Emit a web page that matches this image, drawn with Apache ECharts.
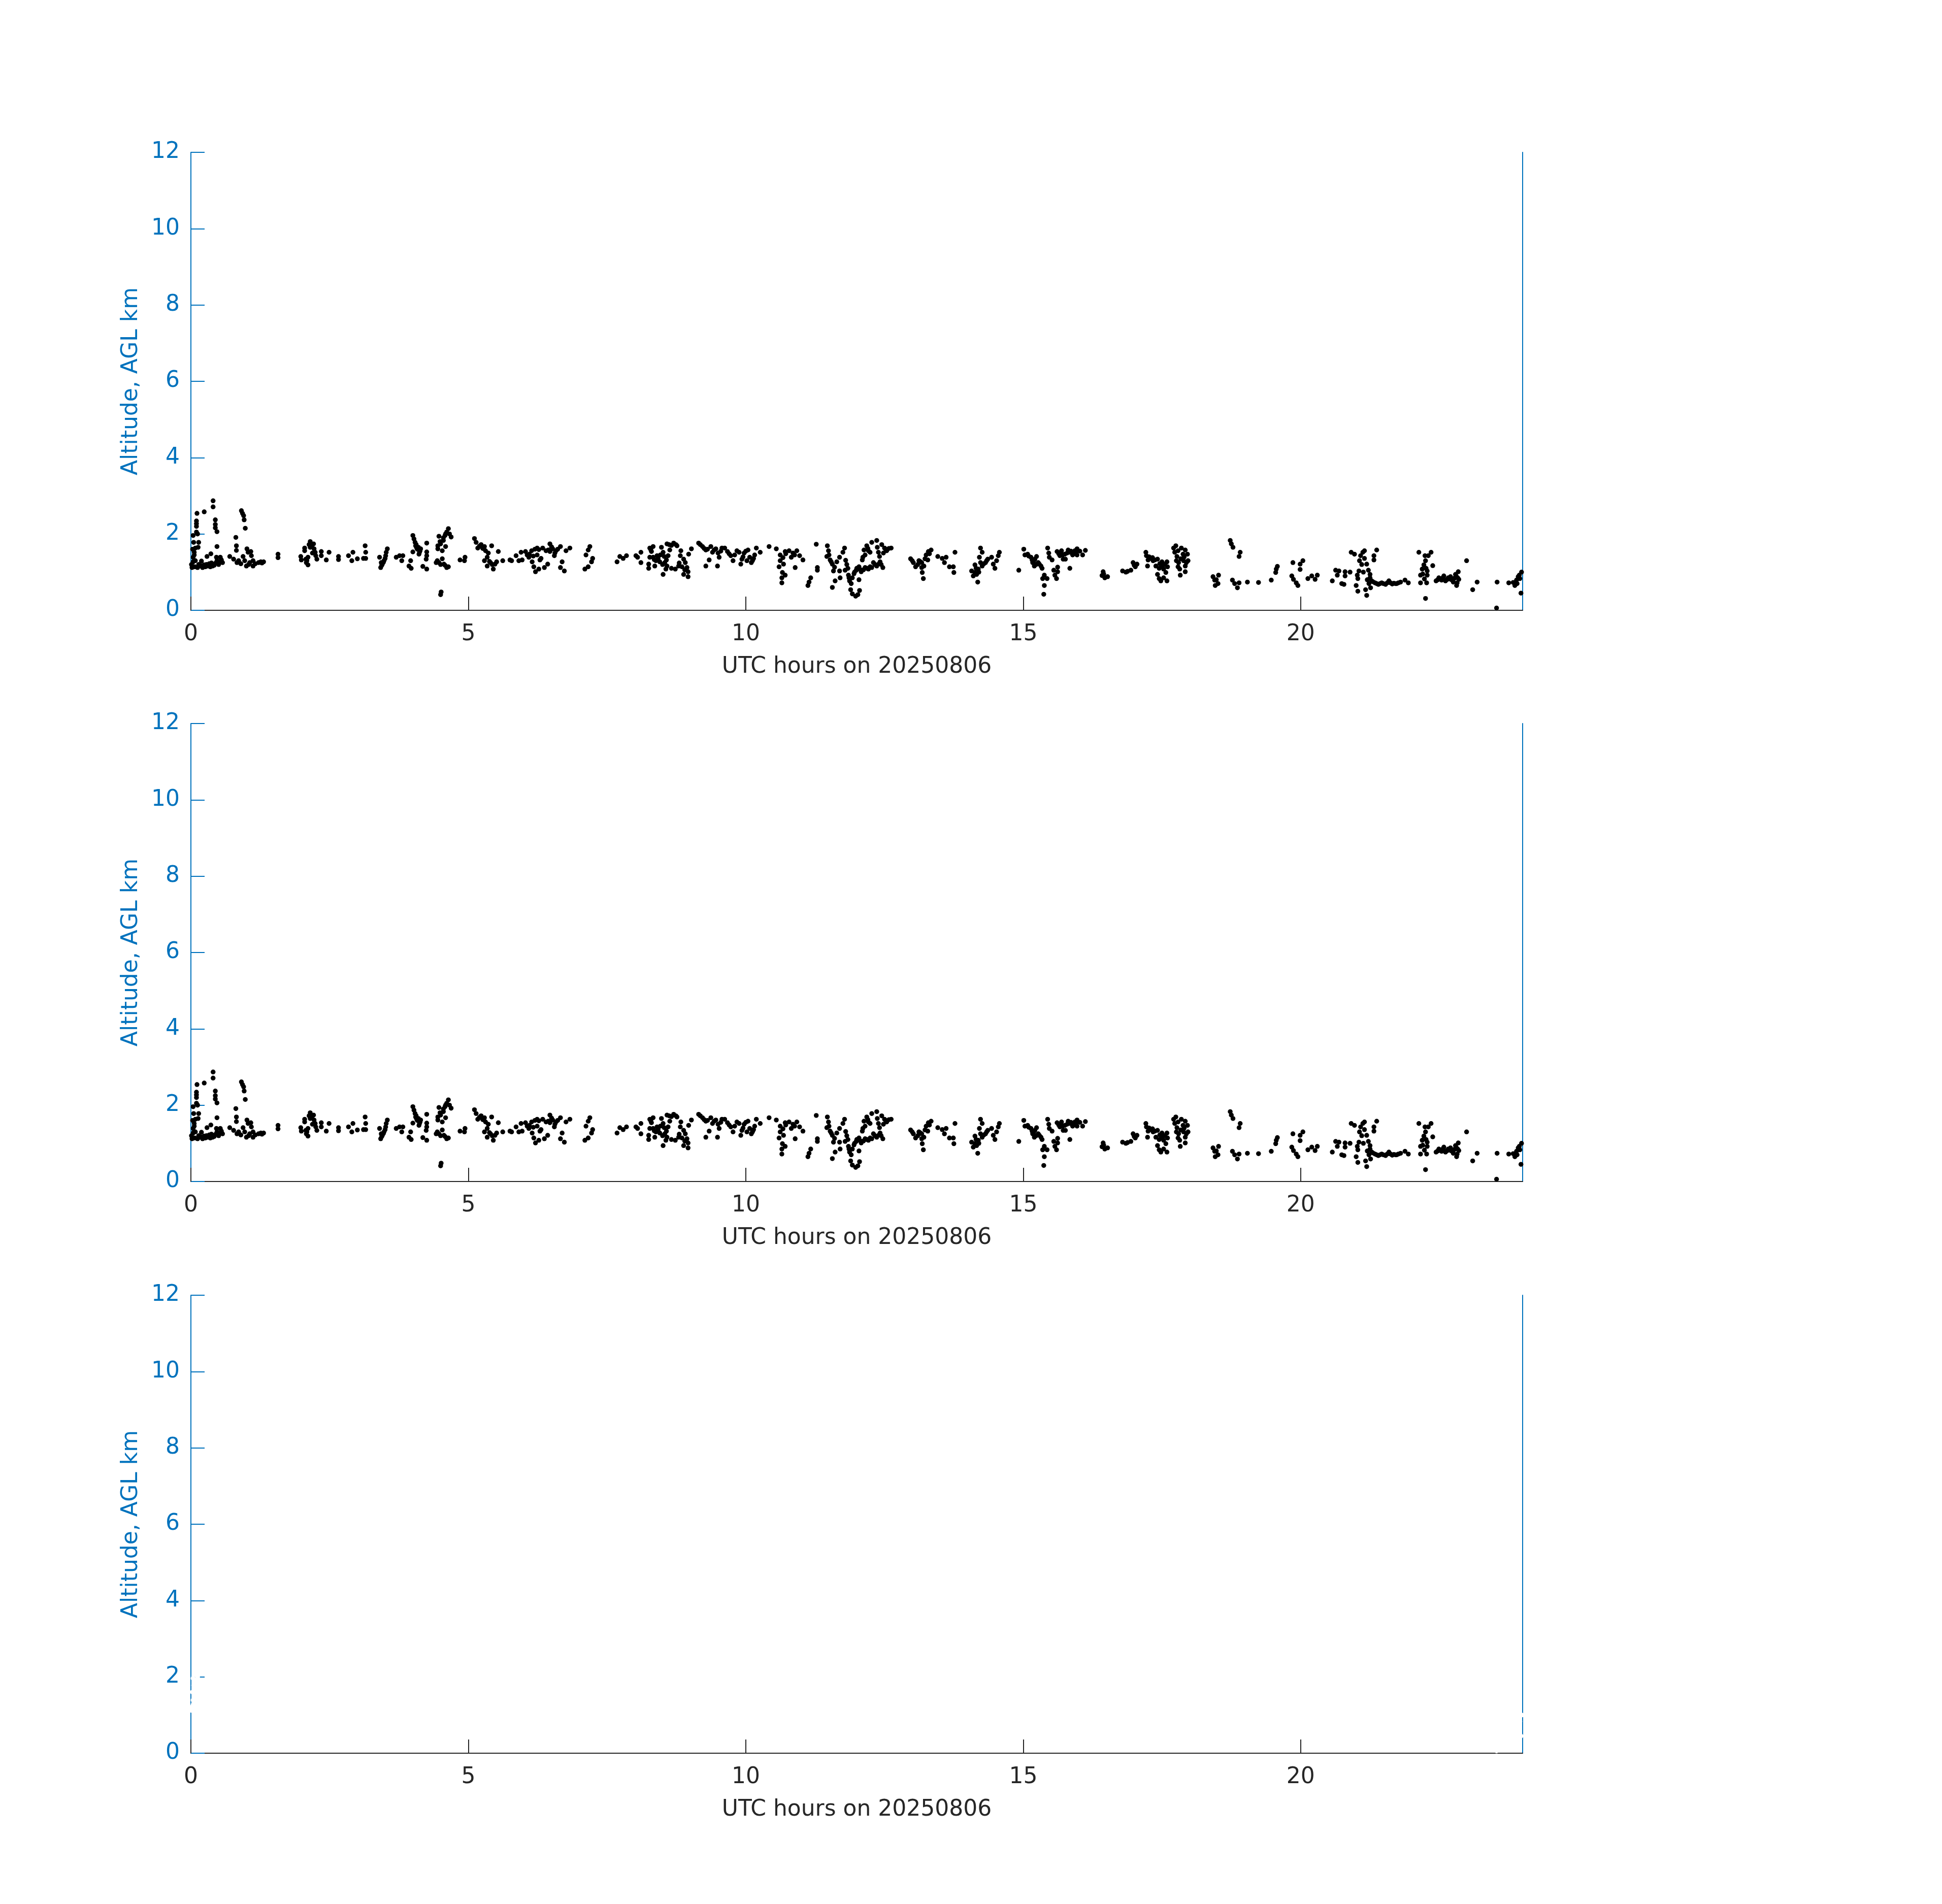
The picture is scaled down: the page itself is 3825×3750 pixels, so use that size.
<!DOCTYPE html>
<html><head><meta charset="utf-8">
<script src="https://cdn.jsdelivr.net/npm/echarts@6/dist/echarts.min.js"></script>
<style>html,body{margin:0;padding:0;background:#fff}#c{width:3825px;height:3750px}</style>
</head><body><div id="c"></div>
<script>
const xTickValues = [0, 5, 10, 15, 20];
const xAxisTitle = 'UTC hours on 20250806';
const yAxisTitle = 'Altitude, AGL km';

// [UTC hour, altitude km]
const obs00to05 = [[0.02,1.12],[0.07,1.14],[0.12,1.12],[0.16,1.16],[0.21,1.12],[0.26,1.14],[0.30,1.16],[0.35,1.14],[0.39,1.16],[0.44,1.23],[0.49,1.25],[0.53,1.27],[0.04,1.27],[0.08,1.30],[0.19,1.29],[0.29,1.41],[0.36,1.48],[0.46,1.39],[0.53,1.39],[0.57,1.25],[0.04,1.39],[0.06,1.52],[0.08,1.63],[0.13,1.65],[0.05,1.78],[0.14,1.78],[0.04,1.96],[0.12,2.00],[0.10,2.05],[0.10,2.20],[0.10,2.27],[0.10,2.34],[0.11,2.54],[0.24,2.58],[0.40,2.87],[0.40,2.71],[0.44,2.37],[0.44,2.25],[0.44,2.16],[0.47,2.06],[0.47,1.67],[0.81,1.91],[0.82,1.69],[0.82,1.57],[0.70,1.41],[0.77,1.34],[0.83,1.25],[0.91,2.61],[0.93,2.54],[0.95,2.48],[0.96,2.37],[0.98,2.15],[1.01,1.61],[1.03,1.52],[1.08,1.54],[1.09,1.43],[0.94,1.41],[0.97,1.30],[1.00,1.16],[1.06,1.25],[1.12,1.16],[1.12,1.30],[1.22,1.25],[1.31,1.27],[1.26,1.27],[1.57,1.47],[1.57,1.38],[1.98,1.41],[1.99,1.32],[2.05,1.63],[2.05,1.56],[2.15,1.80],[2.15,1.65],[2.21,1.74],[2.22,1.61],[2.24,1.52],[2.25,1.43],[2.27,1.34],[2.08,1.25],[2.11,1.19],[2.07,1.34],[2.11,1.39],[2.35,1.54],[2.35,1.43],[2.44,1.32],[2.49,1.52],[2.66,1.41],[2.66,1.33],[2.84,1.43],[2.92,1.52],[2.90,1.30],[3.00,1.35],[3.11,1.36],[3.14,1.69],[3.15,1.52],[3.15,1.36],[3.40,1.39],[3.42,1.12],[3.45,1.21],[3.48,1.30],[3.51,1.43],[3.52,1.52],[3.54,1.61],[3.43,1.25],[3.70,1.39],[3.76,1.43],[3.80,1.30],[3.82,1.43],[3.96,1.30],[3.93,1.16],[3.97,1.10],[4.00,1.96],[4.02,1.87],[4.04,1.78],[4.05,1.69],[4.07,1.63],[4.10,1.65],[4.13,1.56],[4.11,1.47],[4.14,1.61],[4.00,1.53],[4.18,1.15],[4.24,1.34],[4.25,1.08],[4.25,1.53],[4.25,1.76],[4.25,1.43],[4.47,1.94],[4.45,1.69],[4.45,1.61],[4.50,1.74],[4.55,1.83],[4.58,1.96],[4.59,2.00],[4.64,2.14],[4.69,1.92],[4.53,1.56],[4.59,1.67],[4.53,1.35],[4.42,1.25],[4.47,1.25],[4.56,1.21],[4.61,1.12],[4.64,1.14],[4.50,0.41],[4.51,0.48],[0.01,1.20],[0.14,1.20],[0.24,1.19],[0.33,1.22],[0.42,1.18],[0.50,1.20],
  [0.18,1.17],[0.28,1.20],[0.37,1.24],[0.47,1.30],[0.55,1.32],[0.06,1.45],[0.03,1.60],[0.86,1.30],[0.90,1.22],[1.04,1.20],[1.16,1.22],[1.28,1.24],[2.13,1.72],[2.18,1.66],[2.19,1.50],[2.09,1.30],[3.44,1.18],[3.47,1.26],[3.50,1.36],[4.06,1.72],[4.08,1.60],[4.12,1.52],[4.49,1.80],[4.55,1.90],[4.61,2.05],[4.66,2.00],[4.44,1.30],[4.50,1.20],[4.58,1.18]];

const obs05to10 = [[4.85,1.32],[4.94,1.39],[4.93,1.30],[5.11,1.88],[5.14,1.78],[5.17,1.63],[5.23,1.72],[5.29,1.67],[5.31,1.56],[5.36,1.50],[5.34,1.39],[5.29,1.30],[5.34,1.16],[5.42,1.69],[5.45,1.08],[5.48,1.21],[5.51,1.27],[5.40,1.25],[5.54,1.54],[5.62,1.30],[5.75,1.32],[5.78,1.30],[5.86,1.43],[5.91,1.30],[5.95,1.52],[5.97,1.32],[6.03,1.54],[6.06,1.45],[6.09,1.39],[6.14,1.56],[6.15,1.27],[6.18,1.14],[6.21,1.01],[6.24,1.63],[6.24,1.45],[6.29,1.32],[6.27,1.08],[6.34,1.63],[6.40,1.56],[6.37,1.12],[6.43,1.21],[6.47,1.74],[6.47,1.54],[6.52,1.61],[6.55,1.43],[6.58,1.56],[6.66,1.67],[6.69,1.27],[6.66,1.12],[6.73,1.03],[6.76,1.56],[6.83,1.63],[7.19,1.67],[7.16,1.58],[7.12,1.45],[7.24,1.36],[7.22,1.27],[7.16,1.14],[7.10,1.08],[7.68,1.27],[7.73,1.41],[7.79,1.36],[7.85,1.43],[8.02,1.43],[8.05,1.39],[8.11,1.52],[8.11,1.25],[8.27,1.63],[8.33,1.67],[8.30,1.54],[8.27,1.39],[8.33,1.39],[8.25,1.21],[8.25,1.10],[8.36,1.16],[8.40,1.43],[8.45,1.27],[8.48,1.65],[8.51,1.52],[8.53,1.41],[8.54,1.25],[8.58,1.16],[8.51,0.94],[8.56,1.08],[8.58,1.74],[8.63,1.58],[8.60,1.43],[8.70,1.76],[8.76,1.69],[8.66,1.10],[8.73,1.08],[8.79,1.16],[8.82,1.43],[8.83,1.56],[8.88,1.34],[8.91,1.25],[8.94,1.12],[8.96,1.01],[8.96,0.88],[8.88,0.94],[8.97,1.47],[9.02,1.61],[9.15,1.76],[9.22,1.67],[9.28,1.58],[9.37,1.67],[9.40,1.52],[9.46,1.61],[9.34,1.32],[9.28,1.16],[9.49,1.16],[9.52,1.39],[9.57,1.63],
  [5.20,1.68],[5.26,1.62],[5.38,1.28],[5.43,1.20],[6.10,1.47],[6.17,1.42],[6.20,1.60],[6.27,1.59],[6.31,1.36],[6.44,1.58],[6.50,1.66],[6.56,1.50],[6.61,1.60],[8.29,1.58],[8.35,1.33],[8.38,1.30],[8.42,1.36],[8.46,1.45],[8.50,1.20],[8.57,1.32],[8.62,1.72],[8.66,1.70],[8.74,1.72],[8.80,1.24],[8.85,1.14],[8.90,1.06],[9.18,1.72],[9.25,1.62],[9.31,1.60],[9.43,1.58],[9.50,1.50],[9.55,1.55]];

const obs10to15 = [[9.62,1.63],[9.67,1.54],[9.73,1.43],[9.77,1.30],[9.84,1.56],[9.88,1.52],[9.91,1.21],[9.93,1.34],[9.97,1.50],[10.04,1.58],[10.07,1.39],[10.10,1.25],[10.14,1.36],[10.19,1.63],[10.26,1.52],[10.42,1.67],[10.55,1.61],[10.62,1.45],[10.62,1.30],[10.60,1.14],[10.66,0.99],[10.65,0.85],[10.65,0.72],[10.71,0.92],[10.68,1.21],[10.71,1.54],[10.78,1.56],[10.82,1.39],[10.85,1.50],[10.89,1.12],[10.92,1.56],[10.97,1.43],[11.03,1.32],[11.27,1.73],[11.29,1.12],[11.29,1.05],[11.17,0.85],[11.12,0.65],[11.14,0.74],[11.47,1.69],[11.49,1.56],[11.46,1.41],[11.52,1.32],[11.56,1.21],[11.58,1.03],[11.56,0.60],[11.61,0.77],[11.69,1.03],[11.70,0.85],[11.64,1.27],[11.69,1.39],[11.75,1.52],[11.78,1.63],[11.80,1.31],[11.79,1.05],[11.84,1.10],[11.85,0.92],[11.87,0.77],[11.89,0.54],[11.92,0.43],[11.98,0.37],[12.02,0.41],[12.05,0.52],[12.04,0.80],[11.92,0.85],[11.95,0.96],[11.99,1.05],[12.04,1.14],[12.08,1.01],[12.15,1.12],[12.21,1.08],[12.27,1.12],[12.30,1.25],[12.36,1.16],[12.42,1.27],[12.47,1.12],[12.10,1.32],[12.11,1.39],[12.13,1.58],[12.18,1.69],[12.21,1.56],[12.24,1.52],[12.27,1.78],[12.36,1.83],[12.37,1.65],[12.39,1.52],[12.41,1.41],[12.45,1.72],[12.50,1.63],[12.54,1.56],[12.62,1.63],[12.97,1.35],[13.02,1.25],[13.06,1.14],[13.12,1.30],[13.17,1.25],[13.17,1.12],[13.18,0.99],[13.20,0.83],[13.21,1.16],[13.25,1.45],[13.29,1.54],[13.34,1.58],[13.28,1.32],[13.46,1.41],[13.54,1.36],[13.58,1.25],[13.61,1.39],[13.67,1.14],[13.74,1.14],[13.75,0.99],[13.77,1.52],[14.23,1.63],[14.26,1.52],[14.21,1.39],[14.13,1.19],[14.07,1.03],[14.10,0.90],[14.18,0.74],[14.16,0.94],[14.19,1.08],[14.26,1.16],[14.32,1.25],[14.36,1.34],[14.13,0.99],
  [9.70,1.48],[9.80,1.45],[9.95,1.40],[10.00,1.55],[10.02,1.30],[10.12,1.30],[10.16,1.45],[10.67,1.38],[10.72,1.48],[10.88,1.45],[11.50,1.45],[11.54,1.27],[11.60,1.13],[11.82,1.20],[11.86,0.85],[11.90,0.70],[11.96,1.00],[12.00,1.10],[12.06,1.07],[12.12,1.06],[12.18,1.10],[12.24,1.14],[12.33,1.20],[12.40,1.22],[12.44,1.20],[12.48,1.50],[12.52,1.60],[12.58,1.62],[12.15,1.45],[12.20,1.62],[13.00,1.30],[13.10,1.20],[13.14,1.28],[13.23,1.35],[13.31,1.48],[14.15,1.10],[14.20,1.00],[14.23,1.25],[14.29,1.22],[14.34,1.30]];

const obs15to20 = [[14.43,1.39],[14.46,1.21],[14.49,1.10],[14.52,1.30],[14.55,1.43],[14.57,1.52],[14.92,1.05],[15.01,1.60],[15.03,1.45],[15.08,1.47],[15.14,1.39],[15.17,1.25],[15.20,1.16],[15.21,1.34],[15.24,1.41],[15.27,1.25],[15.32,1.16],[15.34,1.10],[15.29,1.21],[15.35,0.83],[15.38,0.92],[15.43,0.83],[15.38,0.65],[15.37,0.42],[15.44,1.63],[15.46,1.50],[15.47,1.39],[15.52,1.32],[15.55,1.05],[15.57,0.92],[15.60,0.83],[15.62,1.13],[15.62,1.01],[15.61,1.54],[15.66,1.43],[15.69,1.56],[15.72,1.34],[15.75,1.47],[15.76,1.34],[15.81,1.58],[15.84,1.52],[15.89,1.45],[15.93,1.56],[15.97,1.61],[15.97,1.45],[15.84,1.10],[16.07,1.45],[16.12,1.57],[16.44,1.01],[16.42,0.91],[16.47,0.85],[16.52,0.88],[16.79,1.03],[16.85,1.00],[16.94,1.05],[16.98,1.25],[17.02,1.14],[17.05,1.21],[17.21,1.52],[17.22,1.43],[17.25,1.32],[17.24,1.16],[17.30,1.36],[17.34,1.30],[17.42,1.34],[17.39,1.16],[17.45,1.10],[17.50,1.27],[17.53,1.08],[17.59,1.27],[17.60,1.14],[17.57,0.99],[17.42,0.94],[17.45,0.83],[17.48,0.77],[17.53,0.85],[17.59,0.77],[17.71,1.63],[17.75,1.69],[17.79,1.56],[17.77,1.41],[17.80,1.25],[17.79,1.14],[17.82,1.08],[17.83,0.92],[17.85,1.63],[17.88,1.47],[17.92,1.58],[17.89,1.30],[17.96,1.47],[17.97,1.30],[17.92,1.01],[17.92,1.16],[18.42,0.88],[18.45,0.79],[18.46,0.65],[18.52,0.92],[18.51,0.70],[18.73,1.83],[18.75,1.74],[18.78,1.65],[18.91,1.52],[18.89,1.41],[18.77,0.79],[18.81,0.70],[18.86,0.59],[18.89,0.72],[19.04,0.74],
  [15.10,1.42],[15.16,1.32],[15.19,1.30],[15.23,1.20],[15.64,1.48],[15.68,1.50],[15.71,1.45],[15.79,1.50],[15.86,1.55],[15.91,1.50],[15.95,1.52],[16.02,1.55],[16.45,0.95],[16.88,1.02],[17.00,1.18],[17.27,1.40],[17.33,1.38],[17.37,1.32],[17.46,1.22],[17.51,1.15],[17.55,1.20],[17.73,1.52],[17.76,1.30],[17.84,1.35],[17.90,1.40],[17.94,1.25],[18.48,0.80]];

const obs20to24 = [[19.24,0.73],[19.47,0.79],[19.55,0.99],[19.56,1.08],[19.58,1.15],[19.86,1.25],[19.84,0.90],[19.87,0.81],[19.92,0.72],[19.95,0.65],[19.99,1.21],[19.99,1.07],[20.04,1.30],[20.13,0.83],[20.20,0.90],[20.26,0.81],[20.30,0.92],[20.57,0.77],[20.63,1.05],[20.66,0.92],[20.69,1.03],[20.74,0.70],[20.78,0.68],[20.80,1.01],[20.80,0.90],[20.89,1.00],[20.91,1.52],[20.97,1.47],[21.02,0.92],[21.05,1.03],[21.03,0.83],[21.06,1.30],[21.08,1.43],[21.12,1.52],[21.15,1.56],[21.15,1.36],[21.00,0.65],[21.03,0.50],[21.17,0.54],[21.19,0.39],[21.19,1.21],[21.22,1.05],[21.25,0.94],[21.25,0.85],[21.28,0.77],[21.26,0.59],[21.32,1.43],[21.37,1.58],[21.32,1.32],[21.34,0.72],[21.40,0.68],[21.46,0.72],[21.53,0.68],[21.59,0.77],[21.65,0.69],[21.71,0.70],[21.76,0.72],[21.88,0.79],[21.94,0.72],[22.13,1.52],[22.16,0.72],[22.16,0.92],[22.19,1.08],[22.22,1.19],[22.25,1.30],[22.27,0.72],[22.25,0.31],[22.28,1.03],[22.28,0.92],[22.30,1.43],[22.35,1.52],[22.38,1.17],[22.24,1.43],[22.44,0.77],[22.49,0.85],[22.54,0.79],[22.58,0.90],[22.61,0.77],[22.66,0.85],[22.70,0.88],[22.75,0.74],[22.79,0.94],[22.81,0.65],[22.84,1.01],[22.85,0.81],[22.82,0.72],[22.99,1.30],[23.18,0.74],[23.10,0.54],[23.54,0.74],[23.53,0.06],[23.75,0.72],[23.83,0.73],[23.86,0.65],[23.89,0.79],[23.92,0.88],[23.98,1.00],[23.97,0.45],[23.95,0.83],
  [21.10,1.20],[21.13,1.00],[21.20,0.80],[21.23,0.70],[21.30,0.75],[21.37,0.70],[21.43,0.70],[21.49,0.70],[21.56,0.72],[21.62,0.72],[21.68,0.71],[21.73,0.70],[21.80,0.74],[22.20,0.95],[22.23,0.82],[22.26,1.10],[22.47,0.80],[22.52,0.82],[22.56,0.85],[22.63,0.80],[22.68,0.82],[22.72,0.80],[22.77,0.84],[22.80,0.90],[22.83,0.85],[23.90,0.70],[23.94,0.92]];

const observations = obs00to05.concat(obs05to10, obs10to15, obs15to20, obs20to24);
const panelColors = ['#000000', '#000000', '#ffffff'];

const FONT = 'DejaVu Sans';
const BLUE = '#0072BD';
const DARK = '#262626';
const gridTops = [300, 1425, 2551];

const chart = echarts.init(document.getElementById('c'), null, {renderer: 'canvas'});
const grids = [], xAxes = [], yAxes = [], series = [];
gridTops.forEach((top, i) => {
  grids.push({left: 376, top: top, width: 2623, height: 902, containLabel: false});
  xAxes.push({
    gridIndex: i, type: 'value', min: 0, max: 24,
    axisLine: {show: true, onZero: false, lineStyle: {color: DARK, width: 2}},
    axisTick: {show: true, inside: true, length: 27, customValues: xTickValues, lineStyle: {color: DARK, width: 2}},
    axisLabel: {show: true, customValues: xTickValues, color: DARK, fontSize: 44, fontFamily: FONT, margin: 26},
    splitLine: {show: false},
    name: xAxisTitle, nameLocation: 'middle', nameGap: 90,
    nameTextStyle: {color: DARK, fontSize: 44, fontFamily: FONT}
  });
  yAxes.push({
    gridIndex: i, type: 'value', min: 0, max: 12, interval: 2, position: 'left',
    axisLine: {show: true, onZero: false, lineStyle: {color: BLUE, width: 2}},
    axisTick: {show: true, inside: true, length: 27, lineStyle: {color: BLUE, width: 2}},
    axisLabel: {color: BLUE, fontSize: 44, fontFamily: FONT, margin: 22},
    splitLine: {show: false},
    name: yAxisTitle, nameLocation: 'middle', nameGap: 95, nameRotate: 90,
    nameTextStyle: {color: BLUE, fontSize: 44, fontFamily: FONT}
  });
  yAxes.push({
    gridIndex: i, type: 'value', min: 0, max: 12, position: 'right',
    axisLine: {show: true, onZero: false, lineStyle: {color: BLUE, width: 2}},
    axisTick: {show: false}, axisLabel: {show: false}, splitLine: {show: false}
  });
  series.push({
    type: 'scatter', xAxisIndex: i, yAxisIndex: 2 * i,
    data: observations, symbol: 'circle', symbolSize: 9.5,
    itemStyle: {color: panelColors[i], opacity: 1},
    silent: true, animation: false, z: 3
  });
});

chart.setOption({
  backgroundColor: '#ffffff',
  animation: false,
  grid: grids, xAxis: xAxes, yAxis: yAxes, series: series
});
</script>
</body></html>
